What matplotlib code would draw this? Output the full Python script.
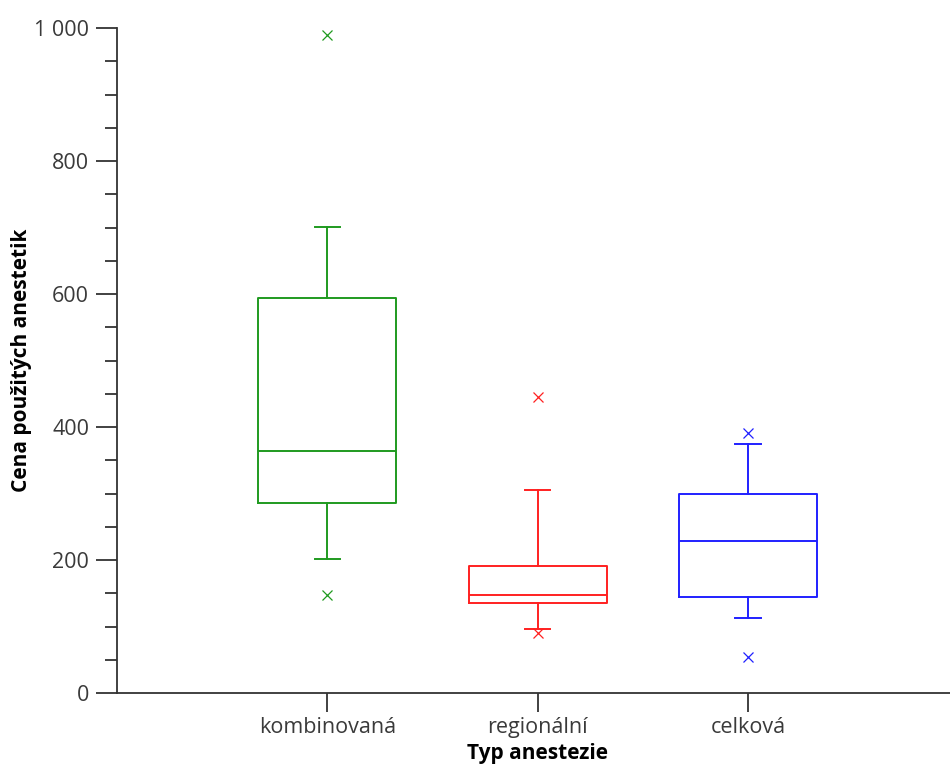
import matplotlib.pyplot as plt
from matplotlib.ticker import MultipleLocator, FuncFormatter

# cost of anaesthetics by anaesthesia type
categories = ['kombinovaná', 'regionální', 'celková']
colors = ['#1f9a1f', '#ff2020', '#2020ff']
q1 = [286, 135, 144]
median = [364, 147, 229]
q3 = [594, 191, 299]
whislo = [201, 96, 113]
whishi = [701, 305, 374]
fliers = [[990, 147], [445, 90], [391, 54]]

plt.rcParams['font.family'] = ['Open Sans', 'DejaVu Sans']
text_color = '#3a3a3a'

fig = plt.figure(figsize=(9.5, 7.69), dpi=100)
ax = fig.add_axes([117 / 950, 76 / 769, 1 - 117 / 950, 665 / 769])

stats = []
for i in range(len(categories)):
    stats.append(dict(q1=q1[i], med=median[i], q3=q3[i],
                      whislo=whislo[i], whishi=whishi[i],
                      fliers=fliers[i], label=categories[i]))

for i, st in enumerate(stats):
    c = colors[i]
    ax.bxp([st], positions=[i + 1], widths=0.655, capwidths=0.12,
           boxprops=dict(color=c, linewidth=1.4),
           medianprops=dict(color=c, linewidth=1.4),
           whiskerprops=dict(color=c, linewidth=1.4),
           capprops=dict(color=c, linewidth=1.4),
           flierprops=dict(marker='x', markeredgecolor=c, markersize=7,
                           markeredgewidth=0.9, linestyle='none'))

ax.set_xlim(0, 3.96)
ax.set_ylim(0, 1000)
ax.set_xticks([1, 2, 3])
ax.set_xticklabels(categories)

ax.yaxis.set_major_locator(MultipleLocator(200))
ax.yaxis.set_minor_locator(MultipleLocator(50))
ax.yaxis.set_major_formatter(
    FuncFormatter(lambda v, p: f'{int(v):,}'.replace(',', ' ')))

for side in ['top', 'right']:
    ax.spines[side].set_visible(False)
for side in ['left', 'bottom']:
    ax.spines[side].set_color('#333333')
    ax.spines[side].set_linewidth(1.3)

ax.tick_params(axis='both', which='major', length=15, width=1.3,
               color='#333333', labelsize=15.5, labelcolor=text_color, pad=5)
ax.tick_params(axis='y', which='minor', length=9, width=1.3, color='#333333')
ax.tick_params(axis='x', which='major', length=14, pad=3)

ax.set_ylabel('Cena použitých anestetik', fontsize=15, fontweight='bold',
              color='black', va='center')
ax.yaxis.set_label_coords(-95 / 833, 0.5)
ax.set_xlabel('Typ anestezie', fontsize=15, fontweight='bold',
              color='black', va='center')
ax.xaxis.set_label_coords(0.5 + 4 / 833, -61 / 665)

fig.savefig('out.png', dpi=100)
